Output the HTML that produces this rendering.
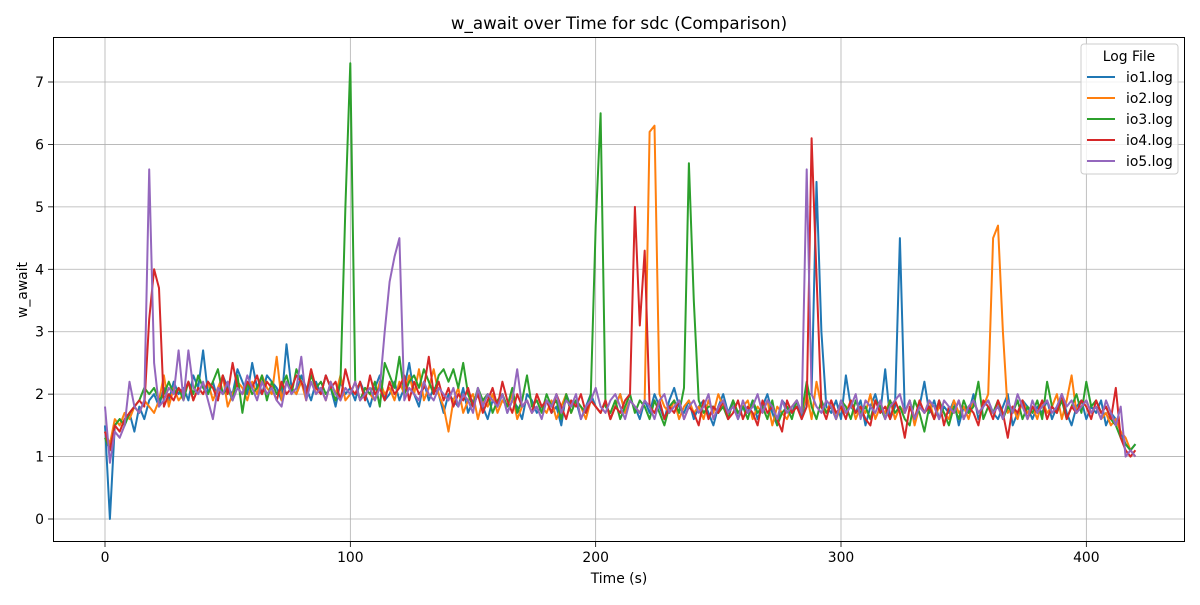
<!DOCTYPE html>
<html><head><meta charset="utf-8"><style>
body{margin:0;background:#fff;}
svg text{font-family:"DejaVu Sans","Liberation Sans",sans-serif;fill:#000;}
</style></head><body>
<svg id="chart" width="1200" height="600" xmlns="http://www.w3.org/2000/svg">
<rect x="0" y="0" width="1200" height="600" fill="#fff"/>
<g id="grid"></g>
<g id="series"></g>
<rect x="53.5" y="37.5" width="1131" height="504" fill="none" stroke="#000" stroke-width="1"/>
<g id="ticks"></g>
<text x="619" y="29" font-size="16.7" text-anchor="middle">w_await over Time for sdc (Comparison)</text>
<text x="619" y="583" font-size="13.9" text-anchor="middle">Time (s)</text>
<text x="0" y="0" font-size="13.9" text-anchor="middle" transform="translate(27,290) rotate(-90)">w_await</text>
<g id="legend">
<rect x="1081" y="44" width="97" height="130" rx="3" fill="#fff" fill-opacity="0.8" stroke="#ccc"/>
<text x="1129" y="61" font-size="13.9" text-anchor="middle">Log File</text>
</g>
</svg>
<script>
const seriesNames = ["io1.log","io2.log","io3.log","io4.log","io5.log"];
const colors = ["#1f77b4","#ff7f0e","#2ca02c","#d62728","#9467bd"];
const xTicks = [0,100,200,300,400];
const yTicks = [0,1,2,3,4,5,6,7];
const io1 = [1.5,0.0,1.5,1.6,1.5,1.7,1.4,1.8,1.6,1.9, 2.0,1.8,2.1,1.9,2.2,2.0,2.1,1.9,2.3,2.1, 2.7,2.0,2.2,1.9,2.3,2.1,2.0,2.4,2.2,2.0, 2.5,2.1,2.0,2.3,2.2,2.1,1.9,2.8,2.1,2.0, 2.3,2.1,1.9,2.2,2.0,2.3,2.1,1.8,2.2,2.0, 2.1,1.9,2.2,2.0,1.8,2.1,2.3,1.9,2.0,2.2, 1.9,2.1,2.5,2.0,1.8,2.2,1.9,2.1,2.0,1.7, 2.0,1.9,1.8,2.1,1.7,1.9,2.0,1.8,1.6,1.9, 1.8,2.0,1.7,1.9,1.8,1.6,2.0,1.9,1.7,1.8, 1.9,1.7,1.8,1.5,2.0,1.8,1.9,1.6,1.8,2.0, 1.8,1.7,1.9,1.6,1.8,2.0,1.7,1.9,1.8,1.6, 1.9,1.7,2.0,1.8,1.6,1.9,2.1,1.8,1.7,1.9, 1.6,1.8,1.9,1.7,1.5,1.8,2.0,1.7,1.9,1.6, 1.8,1.7,1.9,1.6,1.8,2.0,1.7,1.5,1.9,1.8, 1.7,1.9,1.6,2.0,2.0,5.4,3.0,1.8,1.7,1.9, 1.6,2.3,1.8,1.7,1.9,1.5,1.8,2.0,1.7,2.4, 1.6,1.8,4.5,1.7,1.9,1.6,1.8,2.2,1.7,1.9, 1.6,1.8,1.7,1.9,1.5,1.8,1.7,2.0,1.6,1.8, 1.9,1.7,1.6,1.8,2.0,1.5,1.7,1.9,1.8,1.6, 1.8,1.7,1.9,1.6,1.8,2.0,1.7,1.5,1.8,1.9, 1.6,1.8,1.7,1.9,1.5,1.7,1.6,1.4,1.2,1.1, 1.2];
const io2 = [1.4,1.2,1.6,1.5,1.7,1.6,1.8,1.7,1.9,1.8, 1.7,1.9,2.3,1.8,2.1,1.9,2.0,2.2,1.9,2.1, 2.0,2.2,1.9,2.1,2.3,1.8,2.0,2.2,2.1,1.9, 2.2,2.0,2.3,2.1,2.0,2.6,1.9,2.2,2.1,2.0, 2.2,1.9,2.4,2.0,2.1,1.9,2.2,2.0,2.3,1.9, 2.0,2.2,1.9,2.1,2.0,1.9,2.2,2.0,2.1,1.9, 2.2,2.0,2.3,2.0,2.4,1.9,2.1,2.4,2.0,1.8, 1.4,1.9,2.1,1.7,1.9,2.0,1.6,1.9,1.8,2.0, 1.7,1.9,1.8,2.0,1.6,1.8,1.9,1.7,2.0,1.8, 1.7,1.9,1.6,1.8,2.0,1.7,1.9,1.8,1.6,1.9, 1.8,1.7,1.9,1.6,1.8,2.0,1.7,1.9,1.8,1.7, 1.9,6.2,6.3,2.0,1.8,1.7,1.9,1.6,1.8,1.9, 1.7,1.8,1.6,1.9,1.7,2.0,1.8,1.6,1.9,1.7, 1.8,1.9,1.6,1.8,1.7,1.9,1.5,1.8,1.7,1.6, 1.8,1.9,1.7,2.0,1.6,2.2,1.8,1.7,1.9,1.6, 1.8,1.7,1.9,1.6,1.8,1.7,2.0,1.6,1.8,1.7, 1.9,1.6,1.8,1.7,1.9,1.5,1.8,1.7,1.9,1.6, 1.8,1.7,1.6,1.9,1.7,1.8,1.6,1.9,1.7,1.8, 2.0,4.5,4.7,3.0,1.7,1.8,1.6,1.9,1.7,1.8, 1.6,1.9,1.7,1.8,2.0,1.6,1.9,2.3,1.7,1.8, 1.9,1.7,1.8,1.6,1.7,1.5,1.6,1.4,1.3,1.1, 1.0];
const io3 = [1.3,1.1,1.5,1.6,1.5,1.7,1.8,1.9,2.1,2.0, 2.1,1.9,2.0,2.2,2.0,2.1,1.9,2.2,2.0,2.3, 2.1,2.0,2.2,2.4,2.0,2.1,1.9,2.3,1.7,2.2, 2.0,2.1,2.3,1.9,2.2,2.0,2.1,2.3,2.0,2.4, 2.2,2.0,2.3,2.1,2.2,2.0,2.1,1.9,2.2,5.0, 7.3,2.2,1.9,2.1,2.0,2.2,1.8,2.5,2.3,2.1, 2.6,2.0,2.2,2.3,2.1,2.4,2.2,2.0,2.3,2.4, 2.2,2.4,2.1,2.5,2.0,1.8,2.1,1.9,2.0,1.7, 1.9,2.0,1.8,2.1,1.7,1.9,2.3,1.8,1.9,1.7, 2.0,1.8,1.9,1.6,2.0,1.7,1.9,1.8,1.7,2.0, 4.7,6.5,1.8,1.7,1.9,1.6,1.8,2.0,1.7,1.9, 1.8,1.6,1.9,1.7,1.5,1.8,1.9,1.7,2.1,5.7, 3.5,1.9,1.7,1.8,1.8,1.7,1.8,1.6,1.9,1.7, 1.8,1.6,1.9,1.7,1.8,1.6,1.9,1.5,1.7,1.8, 1.6,1.9,1.7,2.2,1.8,1.6,1.9,1.7,1.8,1.6, 1.9,1.8,1.6,1.9,1.7,1.8,1.6,1.9,1.8,1.6, 1.9,1.7,1.8,1.6,1.5,1.9,1.7,1.4,1.8,1.6, 1.9,1.7,1.5,1.8,1.6,1.9,1.7,1.8,2.2,1.6, 1.8,1.7,1.9,1.6,1.8,1.7,1.9,1.6,1.8,1.7, 1.9,1.6,2.2,1.8,1.7,1.9,1.6,1.8,2.0,1.7, 2.2,1.8,1.9,1.7,1.8,1.6,1.5,1.3,1.2,1.1, 1.2];
const io4 = [1.4,1.1,1.5,1.4,1.6,1.7,1.8,1.9,1.8,3.2, 4.0,3.7,1.8,2.0,1.9,2.1,2.0,2.2,1.9,2.1, 2.0,2.2,2.1,1.9,2.3,2.0,2.5,2.1,2.0,2.2, 2.1,2.3,2.0,2.2,2.1,1.9,2.2,2.0,2.1,2.3, 2.2,2.0,2.4,2.1,2.0,2.3,2.1,2.2,1.9,2.4, 2.1,2.0,2.2,1.9,2.3,2.0,2.1,1.9,2.2,2.0, 2.1,2.3,1.9,2.2,2.0,2.1,2.6,2.0,2.2,1.9, 2.1,1.8,2.0,1.9,2.1,1.8,2.0,1.7,1.9,2.1, 1.8,2.2,1.9,1.7,2.0,1.8,1.9,1.7,2.0,1.8, 1.9,1.7,2.0,1.8,1.6,1.9,1.8,2.0,1.7,1.9, 1.8,1.7,1.9,1.6,1.8,1.7,1.9,2.0,5.0,3.1, 4.3,1.8,1.7,1.9,1.6,1.8,1.7,1.9,1.6,1.8, 1.7,1.5,1.9,1.6,1.8,1.7,1.9,1.6,1.7,1.9, 1.6,1.8,1.7,1.5,1.9,1.7,1.8,1.6,1.4,1.9, 1.7,1.8,1.6,1.8,6.1,3.9,1.8,1.6,1.9,1.7, 1.8,1.6,1.9,1.7,1.8,1.6,1.5,1.9,1.7,1.8, 1.6,1.9,1.7,1.3,1.8,1.6,1.9,1.7,1.8,1.6, 1.9,1.5,1.8,1.7,1.9,1.6,1.8,1.7,1.5,1.9, 1.8,1.6,1.9,1.7,1.3,1.8,1.7,1.9,1.6,1.8, 1.7,1.9,1.6,1.8,1.7,2.0,1.6,1.8,1.7,1.9, 1.8,1.6,1.9,1.7,1.8,1.6,2.1,1.3,1.1,1.0, 1.1];
const io5 = [1.8,0.9,1.4,1.3,1.5,2.2,1.8,1.7,1.9,5.6, 2.5,1.8,1.9,2.1,2.0,2.7,1.9,2.7,2.1,2.0, 2.2,1.9,1.6,2.1,2.0,2.2,1.9,2.1,2.0,2.3, 2.1,1.9,2.2,2.0,2.1,1.9,1.8,2.2,2.0,2.1, 2.6,1.9,2.2,2.0,2.1,1.9,2.2,2.0,1.9,2.1, 2.0,2.2,1.9,2.0,2.1,1.9,2.1,3.0,3.8,4.2, 4.5,1.9,2.1,2.0,1.9,2.2,2.0,1.9,2.1,2.0, 1.9,2.1,1.8,2.0,1.9,1.7,2.1,1.8,2.0,1.9, 1.8,2.0,1.7,1.9,2.4,1.8,1.9,1.7,1.8,1.6, 1.9,1.8,2.0,1.7,1.9,1.8,2.0,1.6,1.8,1.9, 2.1,1.8,1.7,1.9,2.0,1.8,1.6,1.9,1.8,1.7, 1.9,1.8,1.6,1.9,2.0,1.7,1.8,1.9,1.6,1.8, 1.9,1.7,1.8,2.0,1.6,1.8,1.9,1.7,1.8,1.6, 1.9,1.7,1.8,2.0,1.7,1.9,1.8,1.6,1.9,1.7, 1.8,1.9,1.7,5.6,2.0,1.8,1.7,1.9,1.8,1.6, 1.9,1.7,1.8,2.0,1.6,1.9,1.8,1.7,1.9,1.6, 1.8,1.9,2.0,1.7,1.9,1.6,1.8,1.7,1.9,1.8, 1.6,1.9,1.8,1.7,1.9,1.6,1.8,1.9,1.7,1.8, 1.9,1.7,1.8,1.6,1.9,1.7,2.0,1.8,1.6,1.9, 1.7,1.8,1.9,1.7,1.8,2.0,1.8,1.9,1.7,1.8, 1.9,1.7,1.8,1.6,1.9,1.7,1.5,1.8,1.0,1.1, 1.0];
const allSeries = [io1,io2,io3,io4,io5];
const times = io1.map((_,i)=>i*2);

const NS="http://www.w3.org/2000/svg";
const X0=105, XS=(841-105)/300, Y0=519, YS=(519-82)/7;
const xs=v=>X0+v*XS, ys=v=>Y0-v*YS;
function mk(tag,attrs,parent){const e=document.createElementNS(NS,tag);for(const k in attrs)e.setAttribute(k,attrs[k]);parent.appendChild(e);return e;}
const grid=document.getElementById('grid'), ticks=document.getElementById('ticks'), ser=document.getElementById('series'), leg=document.getElementById('legend');
xTicks.forEach(t=>{const x=xs(t);
 const g=mk('line',{x1:x,x2:x,y1:37,y2:542,stroke:'#b0b0b0','stroke-width':0.8},grid);
 
 
 const tk=mk('line',{x1:x,x2:x,y1:542,y2:547,stroke:'#000','stroke-width':0.8},ticks);
 
 
 const tx=mk('text',{x:x,y:562,'font-size':13.9,'text-anchor':'middle'},ticks);tx.textContent=t;
 
 
});
yTicks.forEach(t=>{const y=ys(t);
 const g=mk('line',{x1:53,x2:1185,y1:y,y2:y,stroke:'#b0b0b0','stroke-width':0.8},grid);
 
 
 const tk=mk('line',{x1:48,x2:53,y1:y,y2:y,stroke:'#000','stroke-width':0.8},ticks);
 
 
 const tx=mk('text',{x:44,y:y+5,'font-size':13.9,'text-anchor':'end'},ticks);tx.textContent=t;
 
 
});
allSeries.forEach((s,i)=>{
 const pts=s.map((v,j)=>xs(times[j]).toFixed(1)+','+ys(v).toFixed(1)).join(' ');
 const pl=mk('polyline',{points:pts,fill:'none',stroke:colors[i],'stroke-width':2,'stroke-linejoin':'round'},ser);
 
 
 const y=77+i*21;
 const ll=mk('line',{x1:1087,x2:1115,y1:y,y2:y,stroke:colors[i],'stroke-width':2},leg);
 
 
 const lt=mk('text',{x:1126,y:y+5,'font-size':13.9},leg);lt.textContent=seriesNames[i];
 
 
});
</script>
</body></html>
